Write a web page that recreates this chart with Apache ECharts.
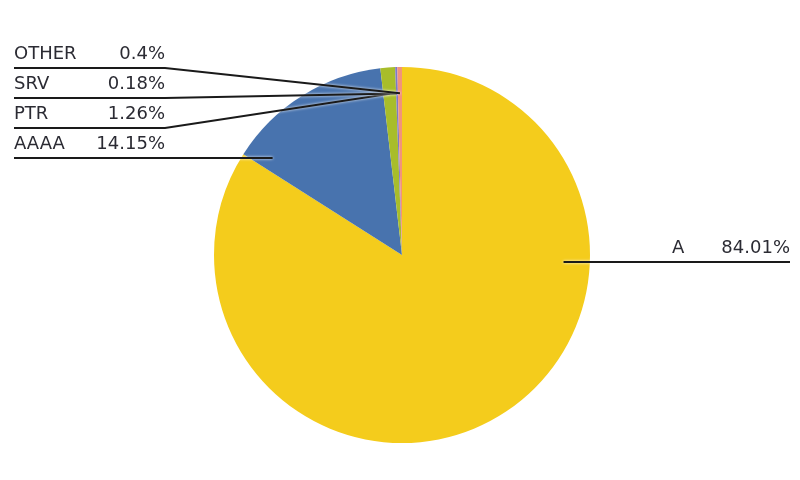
<!DOCTYPE html>
<html><head><meta charset="utf-8">
<script src="https://cdn.jsdelivr.net/npm/echarts@6/dist/echarts.min.js"></script>
<style>html,body{margin:0;padding:0;background:#fff}#c{width:800px;height:480px}</style>
</head><body><div id="c"></div>
<script>
const categories = ['A', 'AAAA', 'PTR', 'SRV', 'OTHER'];
const shares = [84.01, 14.15, 1.26, 0.18, 0.4];
const colors = ['#F4CC1C', '#4873AE', '#A8BD2A', '#7E78C8', '#F2937A'];

const CX = 402, CY = 255, R = 188;
const ANCHOR_R = R * 0.86;
const LEFT_X = 14, LEFT_END = 165, LEFT_TOP = 68, ROW = 30;
const RIGHT_X = 790, RIGHT_Y = 262;
const VAL_W = 72, LEFT_NAME_W = 79, RIGHT_NAME_W = 46;
const TEXT_COLOR = '#2b2b33';

const total = shares.reduce((a, b) => a + b, 0);
let acc = 0;
const arcs = shares.map(v => { const s = acc / total * 360; acc += v; return { s: s, e: acc / total * 360 }; });
const mids = arcs.map(a => (a.s + a.e) / 2);
const isRight = mids.map(m => Math.sin(m * Math.PI / 180) > 0);
const leftOrder = mids.map((m, i) => i).filter(i => !isRight[i]).sort((i, j) => mids[j] - mids[i]);

function underlineY(i) {
  if (isRight[i]) return RIGHT_Y;
  return LEFT_TOP + leftOrder.indexOf(i) * ROW;
}
function anchor(i, uy) {
  const dy = uy - CY;
  if (Math.abs(dy) < ANCHOR_R) {
    const dx = Math.sqrt(ANCHOR_R * ANCHOR_R - dy * dy) * (isRight[i] ? 1 : -1);
    let ang = Math.atan2(dx, -dy) * 180 / Math.PI;
    if (ang < 0) ang += 360;
    if (ang >= arcs[i].s && ang <= arcs[i].e) return [CX + dx, uy];
  }
  const m = mids[i] * Math.PI / 180;
  return [CX + ANCHOR_R * Math.sin(m), CY - ANCHOR_R * Math.cos(m)];
}

// sectors (no labels)
const sectorData = categories.map((name, i) => ({
  name: name, value: shares[i], itemStyle: { color: colors[i] }
}));
// labels + guide lines, drawn in a transparent overlay pie so lines sit above the sectors
const labelData = categories.map((name, i) => ({
  name: name,
  value: shares[i],
  itemStyle: { color: 'rgba(0,0,0,0)' },
  label: {
    rich: {
      n: { width: isRight[i] ? RIGHT_NAME_W : LEFT_NAME_W, fontSize: 18, fontFamily: 'DejaVu Sans', color: TEXT_COLOR },
      v: { width: VAL_W, align: 'right', fontSize: 18, fontFamily: 'DejaVu Sans', color: TEXT_COLOR }
    }
  }
}));

const chart = echarts.init(document.getElementById('c'), null, { renderer: 'canvas' });
chart.setOption({
  backgroundColor: '#fff',
  animation: false,
  series: [{
    type: 'pie',
    z: 2,
    center: [CX, CY],
    radius: R,
    startAngle: 90,
    clockwise: true,
    data: sectorData,
    label: { show: false },
    labelLine: { show: false },
    emphasis: { disabled: true }
  }, {
    type: 'pie',
    z: 5,
    silent: true,
    center: [CX, CY],
    radius: R,
    startAngle: 90,
    clockwise: true,
    avoidLabelOverlap: false,
    data: labelData,
    label: {
      show: true,
      formatter: '{n|{b}}{v|{c}%}',
      fontFamily: 'DejaVu Sans',
      fontSize: 18,
      color: TEXT_COLOR
    },
    labelLine: {
      show: true,
      length: 10,
      length2: 10,
      lineStyle: { color: '#1a1a1a', width: 2, shadowColor: 'rgba(255,255,255,0.95)', shadowBlur: 3 }
    },
    emphasis: { disabled: true },
    labelLayout: function (params) {
      const i = params.dataIndex;
      const uy = underlineY(i);
      const p0 = anchor(i, uy);
      let pts, x;
      if (isRight[i]) {
        x = RIGHT_X - RIGHT_NAME_W - VAL_W;
        pts = [p0, [x, uy], [RIGHT_X, uy]];
      } else {
        x = LEFT_X;
        pts = [p0, [LEFT_END, uy], [LEFT_X, uy]];
      }
      return { x: x, y: uy - 14, align: 'left', verticalAlign: 'middle', labelLinePoints: pts };
    }
  }]
});
</script>
</body></html>
